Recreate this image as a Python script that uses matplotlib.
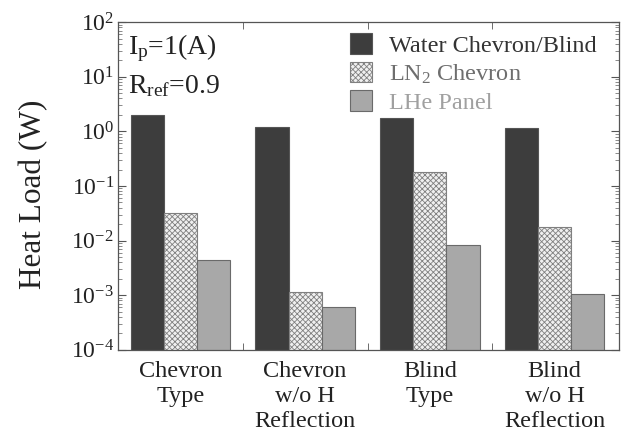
import matplotlib
matplotlib.use("Agg")
import matplotlib.pyplot as plt
import numpy as np
from matplotlib.ticker import LogLocator, NullFormatter, FixedLocator

plt.rcParams['font.family'] = ['Liberation Serif', 'DejaVu Serif']
plt.rcParams['mathtext.fontset'] = 'custom'
plt.rcParams['mathtext.rm'] = 'Liberation Serif'
plt.rcParams['mathtext.it'] = 'Liberation Serif'
plt.rcParams['hatch.linewidth'] = 0.6

categories = ["Chevron\nType", "Chevron\nw/o H\nReflection", "Blind\nType", "Blind\nw/o H\nReflection"]
series_names = ["Water Chevron/Blind", "LN$_2$ Chevron", "LHe Panel"]
water = [2.0, 1.2, 1.75, 1.15]
ln2 = [0.032, 0.00115, 0.18, 0.018]
lhe = [0.0045, 0.00062, 0.0083, 0.00105]
ytick_vals = [1e-4, 1e-3, 1e-2, 1e-1, 1e0, 1e1, 1e2]
ytick_labels = ["10$^{-4}$", "10$^{-3}$", "10$^{-2}$", "10$^{-1}$", "10$^{0}$", "10$^{1}$", "10$^{2}$"]

fig = plt.figure(figsize=(6.25, 4.34), dpi=100)
ax = fig.add_axes([0.189, 0.194, 0.802, 0.755])

x = np.arange(len(categories))
w = 0.8 / 3
ax.bar(x - w, water, w, color='#3d3d3d', edgecolor='#555555', linewidth=0.8, label=series_names[0])
ax.bar(x, ln2, w, color='#f0f0f0', edgecolor='#808080', hatch='xxxxxx', linewidth=0.8, label=series_names[1])
ax.bar(x + w, lhe, w, color='#a8a8a8', edgecolor='#6a6a6a', linewidth=0.8, label=series_names[2])

ax.set_yscale('log')
ax.set_ylim(1e-4, 1e2)
ax.set_xlim(-0.5, 3.52)
ax.set_yticks(ytick_vals)
ax.set_yticklabels(ytick_labels, fontsize=17, color='#222222')
ax.yaxis.set_minor_locator(LogLocator(base=10, subs=np.arange(2, 10), numticks=20))
ax.yaxis.set_minor_formatter(NullFormatter())
ax.set_xticks(x)
ax.set_xticklabels(categories, fontsize=17.5, linespacing=1.26, color='#222222')
ax.xaxis.set_minor_locator(FixedLocator([0.5, 1.5, 2.5]))
ax.tick_params(axis='x', which='major', length=0, pad=8)
ax.tick_params(axis='x', which='minor', direction='in', length=5, top=True, bottom=True, color='#555555')
ax.tick_params(axis='y', which='major', direction='in', length=6, left=True, right=True, color='#555555', pad=3)
ax.tick_params(axis='y', which='minor', direction='in', length=3, left=True, right=True, color='#777777')
for s in ax.spines.values():
    s.set_color('#555555')
    s.set_linewidth(0.9)

ax.set_ylabel("Heat Load (W)", fontsize=22.5, color='#222222')
ax.yaxis.set_label_coords(-0.14, 0.476)

ax.text(0.02, 0.92, "I$_\\mathrm{p}$=1(A)", transform=ax.transAxes, fontsize=20, va='center', ha='left', color='#222222')
ax.text(0.02, 0.805, "R$_\\mathrm{ref}$=0.9", transform=ax.transAxes, fontsize=20, va='center', ha='left', color='#222222')

leg = ax.legend(loc='upper right', bbox_to_anchor=(0.984, 1.01), frameon=False, fontsize=17.5,
                handlelength=0.9, handleheight=0.9, handletextpad=0.7, labelspacing=0.2, borderaxespad=0.2)
for t, c in zip(leg.get_texts(), ['#333333', '#6e6e6e', '#a0a0a0']):
    t.set_color(c)

fig.savefig("out.png", dpi=100)
